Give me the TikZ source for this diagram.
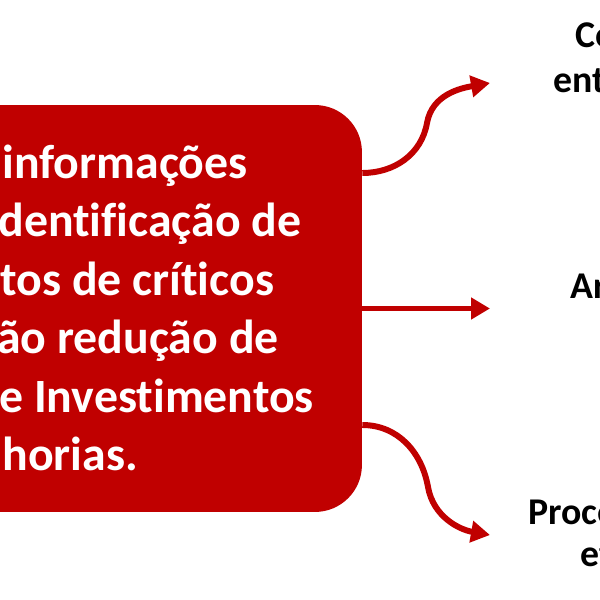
\documentclass[tikz,border=0pt]{standalone}
\usepackage{fontspec}
\setmainfont[Ligatures=NoCommon]{Carlito}
\usetikzlibrary{arrows.meta,calc}
\definecolor{boxred}{HTML}{C00000}

\begin{document}
\begin{tikzpicture}[x=0.02cm,y=0.02cm,
  bigtext/.style={anchor=base west,inner sep=0,text=white,font=\fontsize{27.2pt}{33pt}\selectfont\bfseries},
  sidetext/.style={anchor=base west,inner sep=0,text=black,font=\fontsize{21.5pt}{26pt}\selectfont\bfseries},
  flow/.style={draw=boxred,line width=3.4pt,-{Triangle[length=0.38cm,width=0.42cm]}}]

\useasboundingbox (0,0) rectangle (600,600);
\clip (0,0) rectangle (600,600);

% main box, runs off the left edge
\node[fill=boxred,rounded corners=0.94cm,minimum width=13.24cm,minimum height=8.14cm,inner sep=0] (box) at (31,291.5) {};

\node[bigtext] (la) at (2,422) {informações};
\node[bigtext] (lb) at (-2,364) {dentificação de};
\node[bigtext] (lc) at (0,305) {tos de críticos};
\node[bigtext] (ld) at (-3,247) {ão redução de};
\node[bigtext] (le) at (-1,188) {e Investimentos};
\node[bigtext] (lf) at (2,130) {horias.};

\coordinate (tipa) at (490,517);
\coordinate (tipb) at (490,291.5);
\coordinate (tipc) at (490,65);

\draw[flow] ($(box.east)+(0,135.5)$) to[out=0,in=-100] (427,477) to[out=80,in=190] (tipa);
\draw[flow] (box.east) -- (tipb);
\draw[flow] ($(box.east)+(0,-116.5)$) to[out=0,in=100] (428,113) to[out=-80,in=170] (tipc);

\node[sidetext] (ra) at (575,553) {Co};
\node[sidetext] (rb) at (553,508) {ent};
\node[sidetext] (rc) at (570,302) {Ar};
\node[sidetext] (rd) at (528,75) {Proce};
\node[sidetext] (re) at (580,33) {et};

\end{tikzpicture}
\end{document}
